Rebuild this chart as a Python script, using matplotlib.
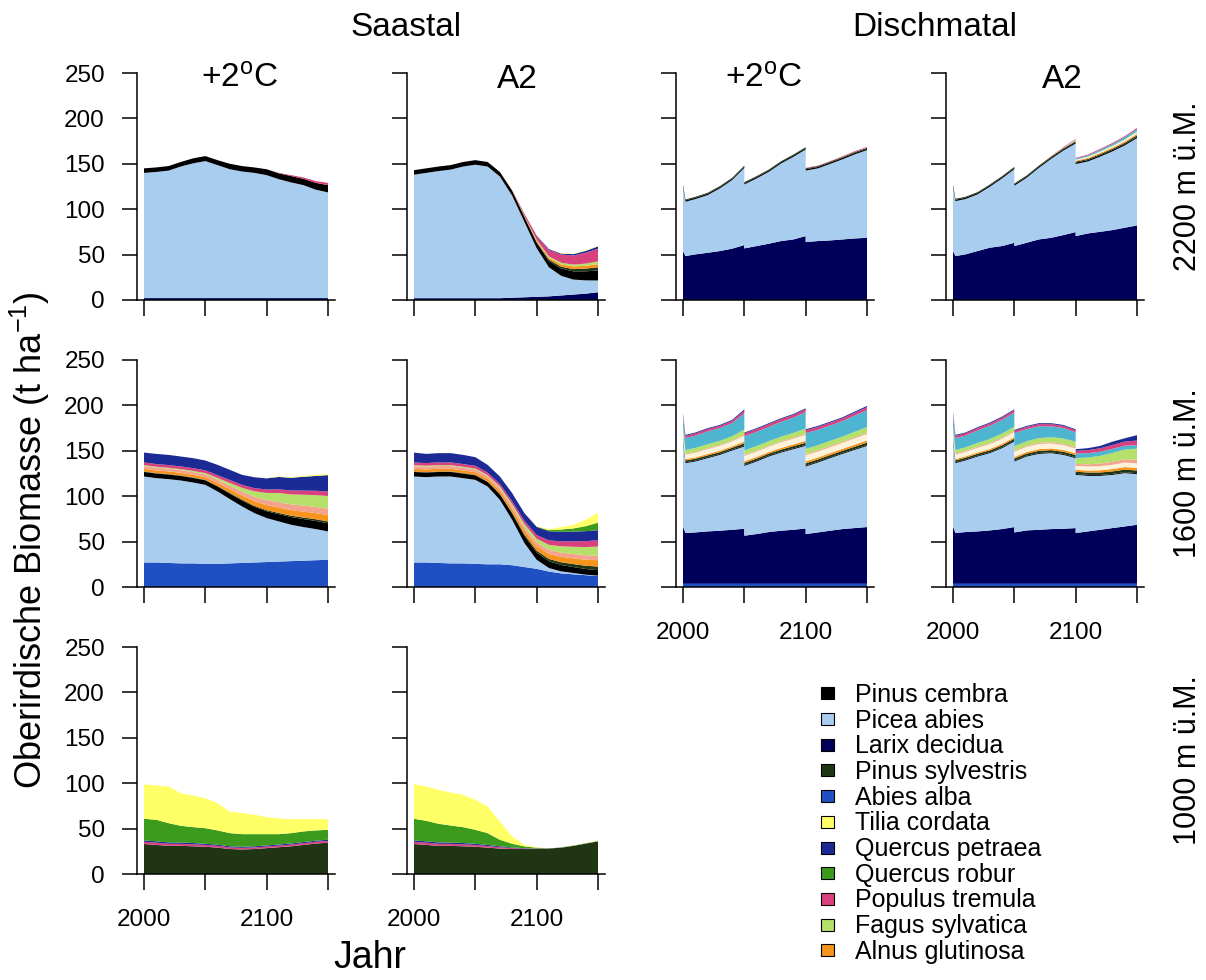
import matplotlib
matplotlib.use('Agg')
import matplotlib.pyplot as plt
from matplotlib.patches import Rectangle

plt.rcParams['font.family'] = ['Liberation Sans', 'DejaVu Sans']
plt.rcParams['mathtext.fontset'] = 'custom'
plt.rcParams['mathtext.rm'] = 'Liberation Sans'
plt.rcParams['mathtext.it'] = 'Liberation Sans:italic'

# Jahre (Saastal: glatte Kurven, Dischmatal: Spruenge 2050 und 2100)
years_saa = [2000, 2010, 2020, 2030, 2040, 2050, 2060, 2070,
             2080, 2090, 2100, 2110, 2120, 2130, 2140, 2150]
years_dis = [2000, 2002, 2010, 2020, 2030, 2040, 2050, 2050, 2060, 2070,
             2080, 2090, 2100, 2100, 2110, 2120, 2130, 2140, 2150]

# Stapelreihenfolge (unten -> oben) und Farben
stack_order = ['Abies alba', 'Larix decidua', 'Picea abies', 'Pinus cembra',
               'Pinus sylvestris', 'Alnus glutinosa', 'weitere_creme',
               'weitere_lachs', 'Fagus sylvatica', 'weitere_tuerkis',
               'Populus tremula', 'Quercus petraea', 'Quercus robur',
               'Tilia cordata']
species_colors = {
    'Pinus cembra': '#000000',
    'Picea abies': '#a9cdef',
    'Larix decidua': '#00005a',
    'Pinus sylvestris': '#1f3514',
    'Abies alba': '#1f4fc0',
    'Tilia cordata': '#ffff66',
    'Quercus petraea': '#1c2a96',
    'Quercus robur': '#3c9a1c',
    'Populus tremula': '#d9417e',
    'Fagus sylvatica': '#b5e06a',
    'Alnus glutinosa': '#f7941d',
    'weitere_creme': '#fdf3da',
    'weitere_lachs': '#f4a38c',
    'weitere_tuerkis': '#4db5cf',
}
legend_species = ['Pinus cembra', 'Picea abies', 'Larix decidua',
                  'Pinus sylvestris', 'Abies alba', 'Tilia cordata',
                  'Quercus petraea', 'Quercus robur', 'Populus tremula',
                  'Fagus sylvatica', 'Alnus glutinosa']

# Saastal 2200 m, +2 Grad
saa2200_p2 = {
    'Larix decidua': [2, 2, 2, 2, 2, 2, 2, 2, 2, 2, 2, 2, 2, 2, 2, 2],
    'Picea abies': [138, 139, 140.5, 145, 148.5, 151, 146.5, 142, 139.5, 138,
                    135.5, 131, 127.5, 124.5, 119.5, 116.5],
    'Pinus cembra': [5, 5, 5, 5, 5.5, 5.5, 5.5, 6, 6, 6, 6.5, 6.5, 7, 7, 7.5, 8],
    'Populus tremula': [0, 0, 0, 0, 0, 0, 0, 0, 0, 0, 0, 0.5, 1, 1.5, 2, 2.5],
}

# Saastal 2200 m, A2
saa2200_a2 = {
    'Larix decidua': [2, 2, 2, 2, 2, 2, 2, 2, 2.5, 3, 3.5, 4, 5, 6, 7, 8.5],
    'Picea abies': [136, 138, 140, 141.6, 145, 147, 145, 134, 112.5, 83,
                    53.5, 32, 21.6, 16.5, 14.6, 13],
    'Pinus cembra': [5, 5, 5, 5, 5, 5, 5, 5, 5.5, 5.5, 6, 7, 8, 9, 10, 11],
    'Pinus sylvestris': [0, 0, 0, 0, 0, 0, 0, 0, 0, 0.5, 1, 1.5, 2, 2.5, 3, 3.5],
    'Alnus glutinosa': [0, 0, 0, 0, 0, 0, 0, 0, 0.2, 1, 1.5, 2, 2.5, 3, 3, 3.5],
    'Fagus sylvatica': [0, 0, 0, 0, 0, 0, 0, 0, 0, 0, 1, 1.5, 2, 2, 2.5, 3],
    'Populus tremula': [0, 0, 0, 0, 0, 0, 0, 0, 0.3, 2, 4, 7, 9, 10, 12, 14],
    'Quercus petraea': [0, 0, 0, 0, 0, 0, 0, 0, 0, 0, 0.5, 1, 1, 1.5, 2, 2.5],
    'Tilia cordata': [0, 0, 0, 0, 0, 0, 0, 0, 0, 0, 0, 0, 0.5, 0.5, 0.5, 0.5],
}

# Saastal 1600 m, +2 Grad
saa1600_p2 = {
    'Abies alba': [27, 27, 26.5, 26, 26, 25.5, 25.5, 26, 26.5, 27, 27.5, 28,
                   28.5, 29, 29.5, 30],
    'Picea abies': [94.7, 92.9, 92.3, 91.3, 89.1, 87, 79.7, 70.8, 62.2, 54.4,
                    48.4, 44.2, 40, 37, 34.3, 31.2],
    'Pinus cembra': [5, 5, 5, 5, 5, 5, 5.5, 6, 6.5, 7, 7.5, 8, 8.5, 8.8, 9, 9],
    'Pinus sylvestris': [0.5, 0.5, 0.5, 0.5, 0.5, 0.5, 0.5, 0.8, 1, 1, 1.2,
                         1.3, 1.5, 1.7, 1.8, 2],
    'Alnus glutinosa': [3, 3, 3, 3, 3, 3, 3.5, 4, 4.5, 5, 5.5, 6, 6.2, 6.5,
                        6.8, 7],
    'weitere_lachs': [3, 3, 3, 3, 3, 3, 3.5, 4, 4.5, 5, 5.5, 6, 6.3, 6.6, 6.8, 7],
    'Fagus sylvatica': [1, 1, 1, 1, 1.3, 1.5, 2, 3, 4, 6, 8, 10, 11, 12, 13, 14],
    'Populus tremula': [3, 3, 3, 3, 3, 3, 3, 3.2, 3.3, 3.5, 3.8, 4, 4.3, 4.6,
                        4.8, 5],
    'Quercus petraea': [10.8, 11.2, 11.2, 10.9, 11, 10.8, 11.3, 11.2, 11, 12,
                        12.3, 13.7, 14, 15.2, 16.3, 18],
    'Tilia cordata': [0, 0, 0, 0, 0, 0, 0, 0, 0, 0.1, 0.2, 0.5, 0.7, 1, 1.2, 1.4],
}

# Saastal 1600 m, A2
saa1600_a2 = {
    'Abies alba': [27, 27, 26.5, 26, 26, 25.5, 25, 25, 24, 22, 20, 17, 15, 14,
                   13, 12],
    'Picea abies': [94.7, 94, 95.2, 95.7, 93.9, 92.5, 85.7, 71, 50, 26.4, 10,
                    3.9, 2.2, 1.4, 0.6, 0.5],
    'Pinus cembra': [5, 5, 5, 5, 5, 5, 5, 6, 7, 8, 8, 7.5, 7, 6.5, 6.2, 6],
    'Pinus sylvestris': [0.5, 0.5, 0.5, 0.5, 0.5, 0.5, 0.5, 0.7, 1, 1.5, 2,
                         2.5, 3, 3.3, 3.6, 4],
    'Alnus glutinosa': [3, 3, 3, 3, 3, 3, 3, 3.5, 4, 4.5, 5, 5.5, 6, 6.3, 6.6, 7],
    'weitere_lachs': [3, 3, 3, 3, 3, 3, 3, 3, 3.5, 4, 4.2, 4.5, 4.6, 4.8, 5, 5],
    'Fagus sylvatica': [1, 1, 1, 1, 1, 1, 1, 1.5, 2, 3, 4, 5.5, 7, 8, 9, 10],
    'Populus tremula': [3, 3, 3, 3, 3, 3, 2.8, 2.8, 3, 3.5, 4, 5, 5.5, 6, 6.5, 7],
    'Quercus petraea': [10.8, 10.1, 10.2, 10.2, 10.1, 9.5, 8.5, 8.2, 8.9, 8.5,
                        9, 10, 10.5, 10.7, 11, 11],
    'Quercus robur': [0, 0, 0, 0, 0, 0, 0, 0, 0, 0, 0.3, 1.2, 2.5, 3.5, 5.5, 8.4],
    'Tilia cordata': [0, 0, 0, 0, 0, 0, 0, 0, 0, 0, 0.2, 1.2, 2.7, 4, 7, 11],
}

# Saastal 1000 m, +2 Grad
saa1000_p2 = {
    'Pinus sylvestris': [33, 32, 31, 31, 30.5, 30, 29, 27.5, 27, 27.5, 28.5,
                         29.5, 30.5, 32, 33.5, 34.5],
    'Populus tremula': [2.5, 2.5, 2.3, 2.2, 2.2, 2, 2, 1.8, 1.8, 1.8, 1.8, 1.8,
                        1.9, 2, 2, 2],
    'Quercus petraea': [1.5, 1.5, 1.5, 1.4, 1.4, 1.3, 1.3, 1.2, 1.2, 1.2, 1.2,
                        1.2, 1.2, 1.2, 1.2, 1.2],
    'Quercus robur': [23.8, 23.7, 21.2, 18.5, 17.5, 17.2, 15.7, 14.5, 13.9,
                      13.4, 12.4, 11.4, 11.4, 11.7, 11.3, 11],
    'Tilia cordata': [38, 37.7, 40.3, 35.8, 34.8, 33, 30, 23.8, 23.1, 21.3,
                      18.7, 17.2, 15.4, 13.5, 12.4, 11.7],
}

# Saastal 1000 m, A2
saa1000_a2 = {
    'Pinus sylvestris': [33, 32, 31, 31, 30.5, 30, 29, 28, 27.5, 27.5, 27.5,
                         28, 29, 31, 33.5, 36],
    'Populus tremula': [2.5, 2.5, 2.3, 2.2, 2.2, 2, 1.8, 1.5, 1, 0.6, 0.3, 0.1,
                        0, 0, 0, 0],
    'Quercus petraea': [1.5, 1.5, 1.5, 1.4, 1.4, 1.3, 1.2, 1, 0.7, 0.4, 0.2,
                        0.1, 0, 0, 0, 0],
    'Quercus robur': [23.8, 22.6, 20.5, 18.8, 17.5, 15.4, 13, 7.2, 4.1, 1.9,
                      0.9, 0, 0.3, 0.3, 0.3, 0.3],
    'Tilia cordata': [38, 37.7, 37.3, 36.3, 35.5, 32.9, 29.3, 20.1, 8.1, 1.8,
                      0.4, 0, 0, 0.2, 0.2, 0.3],
}

# Dischmatal 2200 m, +2 Grad
dis2200_p2 = {
    'Larix decidua': [53.9, 48.4, 50.2, 52, 53.9, 56.5, 60.5, 56.8, 59.4, 62,
                      64.9, 66.7, 70.4, 63.8, 64.9, 65.6, 66.7, 67.8, 68.5],
    'Picea abies': [70.6, 59.8, 60.9, 63.5, 69, 75.5, 85, 70.5, 74.5, 79.2,
                    85.5, 91, 95.4, 78.7, 80.1, 84.3, 88.2, 92.6, 96.6],
    'Pinus cembra': [1.5, 1.5, 1.5, 1.5, 1.5, 1.5, 1.5, 1.5, 1.5, 1.5, 1.5,
                     1.5, 1.5, 1.5, 1.5, 1.5, 1.5, 1.5, 1.5],
    'Pinus sylvestris': [1, 1, 1, 1, 1, 1, 1, 1, 1, 1, 1, 1, 1, 1, 1, 1, 1, 1, 1],
    'Fagus sylvatica': [0, 0, 0, 0, 0, 0, 0, 0, 0, 0, 0, 0, 0, 0, 0, 0, 0.2,
                        0.2, 0.2],
    'Populus tremula': [0, 0, 0, 0, 0, 0, 0, 0, 0, 0, 0, 0, 0, 0.5, 0.5, 0.5,
                        0.7, 0.8, 0.8],
}

# Dischmatal 2200 m, A2
dis2200_a2 = {
    'Larix decidua': [53.9, 48.4, 50.2, 53.9, 57.6, 59.4, 63, 59.4, 63, 66.7,
                      68.5, 71.5, 74.8, 70.4, 73.3, 75.1, 77, 79.6, 82.1],
    'Picea abies': [70.6, 60.5, 60.9, 62.4, 67.1, 74.5, 81.1, 66.4, 71.6, 78.8,
                    86.9, 93.1, 97.6, 79.3, 79.3, 82.8, 86.7, 90.6, 96.3],
    'Pinus cembra': [1.5, 1.5, 1.5, 1.5, 1.5, 1.5, 1.5, 1.5, 1.5, 1.5, 1.5,
                     1.5, 1.5, 1.5, 1.5, 1.5, 1.5, 1.5, 1.5],
    'Pinus sylvestris': [1, 1, 1, 1, 1, 1, 1, 1, 1, 1, 1, 1, 1, 1.2, 1.2, 1.3,
                         1.3, 1.4, 1.5],
    'Alnus glutinosa': [0, 0, 0, 0, 0, 0, 0, 0, 0, 0, 0.3, 0.5, 0.7, 1, 1.1,
                        1.2, 1.3, 1.4, 1.5],
    'weitere_creme': [0, 0, 0, 0, 0, 0, 0, 0, 0, 0, 0, 0.3, 0.6, 1, 1.2, 1.4,
                      1.6, 1.8, 2],
    'Fagus sylvatica': [0, 0, 0, 0, 0, 0, 0, 0, 0, 0, 0, 0, 0, 0.3, 0.4, 0.5,
                        0.6, 0.7, 0.8],
    'weitere_tuerkis': [0, 0, 0, 0, 0, 0, 0, 0, 0, 0, 0, 0.3, 0.6, 1, 1.3, 1.6,
                        1.9, 2.2, 2.5],
    'Populus tremula': [0, 0, 0, 0, 0, 0, 0, 0, 0, 0, 0.2, 0.4, 0.6, 0.8, 0.9,
                        1, 1.1, 1.2, 1.3],
}

# Dischmatal 1600 m, +2 Grad
dis1600_p2 = {
    'Abies alba': [4, 4, 4, 4, 4, 4, 4, 4, 4, 4, 4, 4, 4, 4, 4, 4, 4, 4, 4],
    'Larix decidua': [62.7, 55.4, 56.1, 57.2, 58, 59, 60.1, 52.5, 54.3, 56.5,
                      58, 59, 60.5, 54.3, 56.1, 58, 59.8, 60.9, 62],
    'Picea abies': [95.3, 77, 78.1, 80.7, 83.5, 87.3, 90.6, 76.9, 79.9, 83.2,
                    86.1, 88.8, 90.9, 74.4, 77, 79.9, 82.8, 86.1, 89.4],
    'Pinus cembra': [1, 1, 1, 1, 1, 1, 1.2, 1, 1, 1, 1, 1, 1.1, 1, 1, 1, 1, 1, 1],
    'Pinus sylvestris': [2, 2, 2, 2, 2, 2, 2.3, 2.2, 2.2, 2.2, 2.2, 2.3, 2.4,
                         2.4, 2.4, 2.4, 2.4, 2.5, 2.6],
    'Alnus glutinosa': [1.5, 1.5, 1.5, 1.6, 1.6, 1.6, 2, 1.8, 1.8, 1.8, 1.9, 2,
                        2.1, 2.2, 2.2, 2.2, 2.2, 2.3, 2.4],
    'weitere_creme': [5, 5, 5.2, 5.4, 5.4, 5.5, 6.5, 6, 6, 6, 6.2, 6.3, 6.7,
                      6.8, 6.6, 6.6, 6.6, 6.9, 7.2],
    'weitere_lachs': [1, 1, 1, 1, 1, 1, 1.2, 1, 1, 1, 1, 1.1, 1.2, 1.2, 1.2,
                      1.2, 1.2, 1.2, 1.3],
    'Fagus sylvatica': [4, 4, 4.2, 4.4, 4.4, 4.6, 5.5, 5, 5, 5, 5.2, 5.3, 5.7,
                        5.8, 5.7, 5.7, 5.7, 6, 6.3],
    'weitere_tuerkis': [11.3, 13.1, 13.5, 14.1, 14.1, 14.5, 17.8, 15.7, 15.7,
                        15.7, 16.3, 16.8, 18, 17.4, 17, 16.9, 17, 17.9, 18.6],
    'Populus tremula': [2.5, 2.5, 2.5, 2.5, 2.5, 2.5, 3.2, 3, 3, 3, 3, 3, 3.1,
                        3.1, 3.1, 3.1, 3.1, 3.2, 3.3],
    'Quercus petraea': [1, 1, 1, 1, 1, 1, 1.3, 1, 1, 1, 1, 1, 1.1, 1.1, 1.1,
                        1.1, 1.1, 1.2, 1.3],
}

# Dischmatal 1600 m, A2
dis1600_a2 = {
    'Abies alba': [4, 4, 4, 4, 4, 4, 4, 4, 4, 4, 4, 4, 4, 4, 4, 4, 4, 4, 4],
    'Larix decidua': [62.7, 55.4, 56.5, 57.2, 58.3, 59.8, 62, 56.1, 58.3, 59,
                      59.8, 60.1, 60.9, 55.4, 57.2, 59, 60.9, 62.7, 64.5],
    'Picea abies': [95.3, 77, 78.8, 82.5, 85.1, 89.1, 94.2, 78.1, 81.4, 83.6,
                    83.6, 81.4, 77, 64.1, 61.2, 59.4, 58.6, 58.7, 55.8],
    'Pinus cembra': [1, 1, 1, 1, 1, 1, 1, 1, 1, 1, 1, 1, 1, 1, 1, 1, 1, 1, 1],
    'Pinus sylvestris': [2, 2, 2, 2, 2, 2.1, 2.1, 2.2, 2.2, 2.3, 2.3, 2.4, 2.4,
                         2.5, 2.6, 2.7, 2.8, 2.9, 3],
    'Alnus glutinosa': [1.5, 1.5, 1.5, 1.5, 1.6, 1.7, 1.7, 1.8, 1.8, 1.9, 1.9,
                        2, 2, 2, 2.2, 2.4, 2.6, 2.8, 3],
    'weitere_creme': [5, 5, 5, 5.2, 5.4, 5.6, 5.7, 5.8, 5.7, 5.7, 5.6, 5.5,
                      5.3, 4.5, 4.6, 4.7, 4.8, 4.9, 5],
    'weitere_lachs': [1, 1, 1, 1, 1, 1, 1.1, 1.1, 1.1, 1.2, 1.3, 1.4, 1.5, 2,
                      2.3, 2.7, 3.2, 3.6, 4],
    'Fagus sylvatica': [4, 4, 4, 4.3, 4.5, 4.7, 4.8, 5, 5, 5.3, 5.5, 5.8, 6,
                        6.5, 7.5, 8.5, 9.8, 10.8, 12],
    'weitere_tuerkis': [13.2, 13.1, 12.8, 13.8, 14.7, 15.2, 15.5, 14.4, 13.4,
                        13, 12, 11.5, 10.2, 5, 4.8, 4.6, 4.4, 4.2, 4],
    'Populus tremula': [2.5, 2.5, 2.5, 2.5, 2.5, 2.5, 2.6, 2.5, 2.5, 2.4, 2.4,
                        2.4, 2.4, 3, 3.4, 3.8, 4.3, 4.6, 5],
    'Quercus petraea': [1, 1, 1, 1, 1, 1, 1, 1, 1, 1, 1, 1, 1, 1.8, 2.1, 2.6,
                        3.7, 3.6, 6],
    'Tilia cordata': [0, 0, 0, 0, 0, 0, 0, 0, 0, 0, 0, 0, 0, 0, 0, 0, 0.1,
                      0.1, 0.2],
}

# Beschriftungen
x_ticks = [2000, 2050, 2100, 2150]
x_tick_labels = ['2000', '', '2100', '']
y_ticks = [0, 50, 100, 150, 200, 250]
row_labels = ['2200 m ü.M.', '1600 m ü.M.', '1000 m ü.M.']

# Layout in Pixeln
W, H = 1206, 980
DATA_X0 = [144, 414, 683, 953]   # Pixel von Jahr 2000 je Spalte
ZERO_Y = [300, 587, 874]         # Pixel von 0 t/ha je Zeile
PX_PER_YEAR = 184 / 150
PANEL_H = 227


# Einzelnes Panel zeichnen
def draw_panel(fig, col, row, years, panel, xlabels, ylabels):
    pad_years = 6
    left = DATA_X0[col] - pad_years * PX_PER_YEAR
    width = (150 + 2 * pad_years) * PX_PER_YEAR
    ax = fig.add_axes([left / W, (H - ZERO_Y[row]) / H, width / W, PANEL_H / H])

    layers = []
    colors = []
    for name in stack_order:
        if name in panel:
            layers.append(panel[name])
            colors.append(species_colors[name])
    ax.stackplot(years, *layers, colors=colors, linewidth=0)

    ax.set_xlim(2000 - pad_years, 2150 + pad_years)
    ax.set_ylim(0, 250)
    ax.spines['top'].set_visible(False)
    ax.spines['right'].set_visible(False)
    ax.spines['left'].set_linewidth(1.1)
    ax.spines['bottom'].set_linewidth(1.1)
    ax.set_xticks(x_ticks)
    ax.set_yticks(y_ticks)
    ax.set_xticklabels(x_tick_labels if xlabels else [''] * 4)
    ax.set_yticklabels([str(v) for v in y_ticks] if ylabels else [''] * 6)
    ax.tick_params(axis='x', length=11.5, width=1.1, pad=14, labelsize=17.5)
    ax.tick_params(axis='y', length=10.8, width=1.1, pad=12, labelsize=17.5)
    return ax


def main():
    fig = plt.figure(figsize=(W / 100, H / 100), dpi=100)

    draw_panel(fig, 0, 0, years_saa, saa2200_p2, False, True)
    draw_panel(fig, 1, 0, years_saa, saa2200_a2, False, False)
    draw_panel(fig, 0, 1, years_saa, saa1600_p2, False, True)
    draw_panel(fig, 1, 1, years_saa, saa1600_a2, False, False)
    draw_panel(fig, 0, 2, years_saa, saa1000_p2, True, True)
    draw_panel(fig, 1, 2, years_saa, saa1000_a2, True, False)
    draw_panel(fig, 2, 0, years_dis, dis2200_p2, False, False)
    draw_panel(fig, 3, 0, years_dis, dis2200_a2, False, False)
    draw_panel(fig, 2, 1, years_dis, dis1600_p2, True, False)
    draw_panel(fig, 3, 1, years_dis, dis1600_a2, True, False)

    # Titel
    fig.text(406 / W, 1 - 28 / H, 'Saastal', ha='center', va='center', fontsize=24)
    fig.text(935 / W, 1 - 28 / H, 'Dischmatal', ha='center', va='center', fontsize=24)
    scen = [('+2$^{\\rm o}$C', 240), ('A2', 517), ('+2$^{\\rm o}$C', 764), ('A2', 1062)]
    for label, x in scen:
        fig.text(x / W, 1 - 88 / H, label, ha='center', va='baseline', fontsize=24)

    # Achsentitel
    fig.text(30 / W, 1 - 540 / H, 'Oberirdische Biomasse (t ha$^{-1}$)',
             rotation=90, ha='center', va='center', fontsize=26)
    fig.text(370 / W, 1 - 958 / H, 'Jahr', ha='center', va='center', fontsize=27)
    for i, label in enumerate(row_labels):
        fig.text(1188 / W, 1 - (186 + 287 * i) / H, label, rotation=90,
                 ha='center', va='center', fontsize=22)

    # Legende
    for i, name in enumerate(legend_species):
        yc = 693.3 + 25.7 * i
        fig.add_artist(Rectangle((821 / W, 1 - (yc + 6) / H), 13 / W, 12 / H,
                                 transform=fig.transFigure,
                                 facecolor=species_colors[name],
                                 edgecolor='black', linewidth=0.8))
        fig.text(855 / W, 1 - (yc + 8.5) / H, name, ha='left', va='baseline',
                 fontsize=18)

    fig.savefig('out.png', dpi=100)


if __name__ == "__main__":
    main()
